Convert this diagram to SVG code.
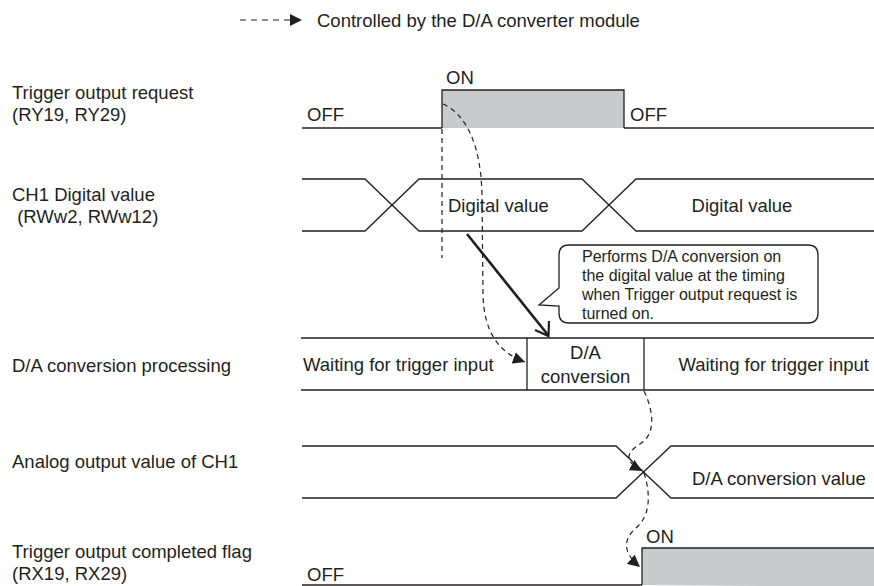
<svg xmlns="http://www.w3.org/2000/svg" width="874" height="586" viewBox="0 0 874 586">
<style>
text{font-family:"Liberation Sans",Arial,sans-serif;font-size:18.5px;fill:#231f20}
.s{font-size:16px}
.ln{fill:none;stroke:#231f20;stroke-width:1.3}
.hi{fill:#c9cacc;stroke:#231f20;stroke-width:1.3}
.dash{fill:none;stroke:#231f20;stroke-width:1.2;stroke-dasharray:5 4}
</style>
<defs>
<marker id="ah" viewBox="0 0 10 10" refX="10" refY="5" markerWidth="12" markerHeight="12" markerUnits="userSpaceOnUse" orient="auto">
<path d="M0,0 L10,5 L0,10 z" fill="#231f20"/>
</marker>
</defs>
<rect width="874" height="586" fill="#fff"/>

<g id="legend">
<line x1="240" y1="20" x2="291" y2="20" fill="none" stroke="#231f20" stroke-width="1.2" stroke-dasharray="6 5"/>
<path d="M290,14 L302,20 L290,26 z" fill="#231f20"/>
<text x="317" y="27">Controlled by the D/A converter module</text>
</g>

<g id="labels">
<text x="12" y="99">Trigger output request</text>
<text x="12" y="121">(RY19, RY29)</text>
<text x="12" y="201">CH1 Digital value</text>
<text x="12" y="223" xml:space="preserve"> (RWw2, RWw12)</text>
<text x="12" y="372">D/A conversion processing</text>
<text x="12" y="468">Analog output value of CH1</text>
<text x="12" y="558">Trigger output completed flag</text>
<text x="12" y="580">(RX19, RX29)</text>
</g>

<g id="trigger-request">
<path class="hi" d="M442,128 V90 H624 V128"/>
<path class="ln" d="M302,128 H442 M624,128 H874"/>
<text x="446" y="84">ON</text>
<text x="307" y="121">OFF</text>
<text x="630" y="121">OFF</text>
</g>

<g id="digital-value">
<path class="ln" d="M302,179 H365 L419,231 H582 L636,179 H874"/>
<path class="ln" d="M302,231 H365 L419,179 H582 L636,231 H874"/>
<text x="448" y="212">Digital value</text>
<text x="742" y="212" text-anchor="middle">Digital value</text>
</g>

<g id="callout">
<path class="ln" d="M569,245 H808 Q818,245 818,255 V313 Q818,323 808,323 H569 Q559,323 559,313 V306 L539,305 L559,288 V255 Q559,245 569,245 z" fill="#fff"/>
<text class="s" x="582" y="262">Performs D/A conversion on</text>
<text class="s" x="582" y="281">the digital value at the timing</text>
<text class="s" x="582" y="300">when Trigger output request is</text>
<text class="s" x="582" y="319">turned on.</text>
</g>

<g id="da-processing">
<path class="ln" d="M301,338 H874 M301,390 H874 M527,338 V390 M644,338 V390"/>
<text x="303" y="371">Waiting for trigger input</text>
<text x="585.5" y="359" text-anchor="middle">D/A</text>
<text x="585.5" y="383" text-anchor="middle">conversion</text>
<text x="869" y="371" text-anchor="end">Waiting for trigger input</text>
</g>

<g id="analog-output">
<path class="ln" d="M302,446 H616 L671,498 H874"/>
<path class="ln" d="M302,498 H616 L671,446 H874"/>
<text x="692" y="485">D/A conversion value</text>
</g>

<g id="completed-flag">
<path class="hi" d="M642,585 V548 H875 V587"/>
<path class="ln" d="M302,585 H642"/>
<text x="646" y="543">ON</text>
<text x="307" y="581">OFF</text>
</g>

<g id="connectors">
<line class="dash" x1="442" y1="129" x2="442" y2="258"/>
<path class="dash" d="M443,104 C466,114 481,145 482,195 L483,295 C484,330 497,352 525,362" marker-end="url(#ah)"/>
<path class="dash" d="M644,391 C654,412 656,434 640,444 C624,454 626,462 642,471" marker-end="url(#ah)"/>
<path class="dash" d="M644,473 C651,495 650,515 637,527 C623,539 622,552 640,567" marker-end="url(#ah)"/>
<line x1="467" y1="234" x2="548" y2="335" stroke="#231f20" stroke-width="2.6"/>
<path d="M535,330 L548.5,336 L549,321" fill="none" stroke="#231f20" stroke-width="2.2"/>
</g>
</svg>
